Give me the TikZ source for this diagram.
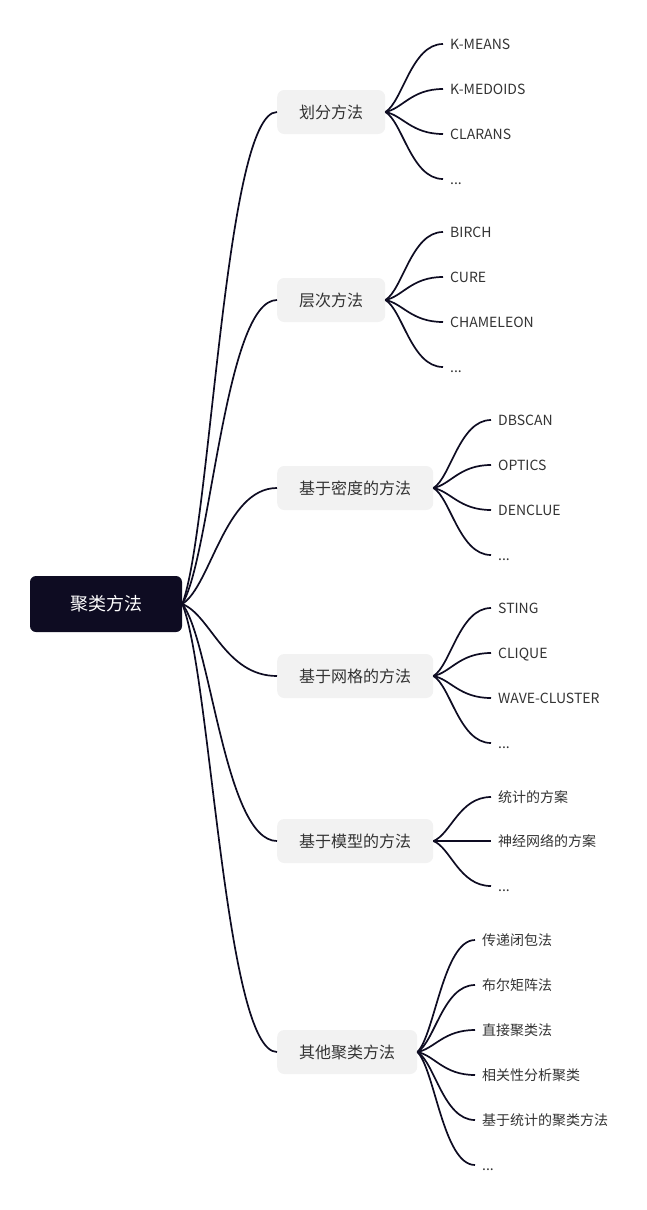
\documentclass[tikz,border=0pt]{standalone}
\usepackage{fontspec}
\setmainfont{Noto Sans CJK SC}
\usetikzlibrary{calc}
\definecolor{cnavy}{HTML}{0E0C22}
\definecolor{cboxgray}{HTML}{F2F2F2}
\definecolor{ctext}{HTML}{333333}
\newcommand{\more}{...}
\newcommand{\branchlink}[2]{%
  \draw[link] let \p1=(#1.east), \p2=(#2.west) in
    (\p1) .. controls ({\x1+0.3*(\x2-\x1)},{\y1+0.15*(\y2-\y1)})
             and ({\x1+0.45*(\x2-\x1)},\y2) .. (\p2);}

\begin{document}
\begin{tikzpicture}[x=1pt, y=-1pt,
  rootbox/.style={fill=cnavy, text=white, rounded corners=6pt, minimum width=152pt,
    minimum height=56pt, inner sep=0pt, font=\fontsize{18}{20}\selectfont},
  topic/.style={anchor=west, fill=cboxgray, text=ctext, rounded corners=7pt,
    minimum height=44pt, inner xsep=22pt, inner ysep=0pt, text height=14pt,
    text depth=2pt, font=\fontsize{16}{18}\selectfont},
  leaf/.style={anchor=west, text=ctext, inner xsep=7pt, inner ysep=0pt,
    text height=12.3pt, text depth=1.7pt, font=\fontsize{14}{16}\selectfont},
  link/.style={draw=cnavy, line width=1.7pt}]
  \useasboundingbox (0,0) rectangle (647,1210);

  % centre
  \node[rootbox] (root) at (106,604) {聚类方法};

  % main branches
  \node[topic] (b1) at (277,112) {划分方法};
  \node[topic] (b2) at (277,300) {层次方法};
  \node[topic] (b3) at (277,488) {基于密度的方法};
  \node[topic] (b4) at (277,676) {基于网格的方法};
  \node[topic] (b5) at (277,841) {基于模型的方法};
  \node[topic] (b6) at (277,1052) {其他聚类方法};
  \foreach \i in {1,...,6}{
    \branchlink{root}{b\i}
  }

  % leaves
  \foreach \t/\y [count=\i] in {K-MEANS/44, K-MEDOIDS/89, CLARANS/134, \more/179}{
    \node[leaf] (a\i) at (443,\y) {\t};
    \branchlink{b1}{a\i}
  }
  \foreach \t/\y [count=\i] in {BIRCH/232, CURE/277, CHAMELEON/322, \more/367}{
    \node[leaf] (h\i) at (443,\y) {\t};
    \branchlink{b2}{h\i}
  }
  \foreach \t/\y [count=\i] in {DBSCAN/420, OPTICS/465, DENCLUE/510, \more/555}{
    \node[leaf] (d\i) at (491,\y) {\t};
    \branchlink{b3}{d\i}
  }
  \foreach \t/\y [count=\i] in {STING/608, CLIQUE/653, WAVE-CLUSTER/698, \more/743}{
    \node[leaf] (g\i) at (491,\y) {\t};
    \branchlink{b4}{g\i}
  }
  \foreach \t/\y [count=\i] in {统计的方案/797, 神经网络的方案/841, \more/886}{
    \node[leaf] (m\i) at (491,\y) {\t};
    \branchlink{b5}{m\i}
  }
  \foreach \t/\y [count=\i] in {传递闭包法/940, 布尔矩阵法/985, 直接聚类法/1030,
      相关性分析聚类/1075, 基于统计的聚类方法/1120, \more/1165}{
    \node[leaf] (o\i) at (475,\y) {\t};
    \branchlink{b6}{o\i}
  }
\end{tikzpicture}
\end{document}
